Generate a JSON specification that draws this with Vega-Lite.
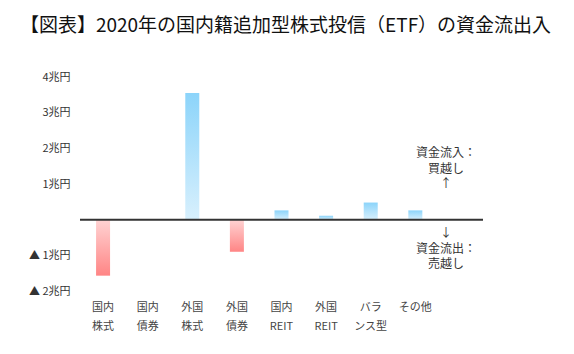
{
  "$schema": "https://vega.github.io/schema/vega-lite/v6.json",
  "width": 403,
  "height": 214,
  "autosize": {"type": "none"},
  "padding": {"left": 80, "top": 77, "right": 91, "bottom": 63},
  "background": "white",
  "config": {
    "view": {"stroke": null},
    "font": "Noto Sans CJK JP"
  },
  "title": {
    "text": "【図表】2020年の国内籍追加型株式投信（ETF）の資金流出入",
    "fontSize": 19,
    "fontWeight": "normal",
    "color": "#111",
    "anchor": "middle",
    "frame": "group",
    "dx": 4,
    "offset": 35
  },
  "datasets": {
    "bars": [
      {"cat": "国内\n株式", "v": -1.57},
      {"cat": "国内\n債券", "v": 0.0},
      {"cat": "外国\n株式", "v": 3.55},
      {"cat": "外国\n債券", "v": -0.9},
      {"cat": "国内\nREIT", "v": 0.26},
      {"cat": "外国\nREIT", "v": 0.11},
      {"cat": "バラ\nンス型", "v": 0.48},
      {"cat": "その他", "v": 0.26}
    ],
    "notes": [
      {"cat": "注記", "y": 1.86, "t": "資金流入：\n買越し\n↑"},
      {"cat": "注記", "y": -0.38, "t": "↓\n資金流出：\n売越し"}
    ]
  },
  "encoding": {
    "x": {
      "field": "cat",
      "type": "nominal",
      "sort": null,
      "scale": {
        "domain": ["国内\n株式", "国内\n債券", "外国\n株式", "外国\n債券", "国内\nREIT", "外国\nREIT", "バラ\nンス型", "その他", "注記"],
        "paddingInner": 0.686,
        "paddingOuter": 0.36
      },
      "axis": {
        "title": null,
        "domain": false,
        "ticks": false,
        "labelAngle": 0,
        "labelFontSize": 11,
        "labelColor": "#444",
        "labelPadding": 10,
        "labelLineHeight": 19,
        "labelExpr": "datum.label == '注記' ? '' : split(datum.label, '\\n')"
      }
    }
  },
  "layer": [
    {
      "data": {"name": "bars"},
      "transform": [{"filter": "datum.v > 0"}],
      "mark": {
        "type": "bar",
        "color": {
          "gradient": "linear",
          "x1": 0, "y1": 0, "x2": 0, "y2": 1,
          "stops": [
            {"offset": 0, "color": "#8cd4fa"},
            {"offset": 1, "color": "#d8f0fd"}
          ]
        }
      },
      "encoding": {
        "y": {
          "field": "v",
          "type": "quantitative",
          "scale": {"domain": [-2, 4], "nice": false},
          "axis": {
            "title": null,
            "domain": false,
            "ticks": false,
            "grid": false,
            "values": [-2, -1, 1, 2, 3, 4],
            "labelFontSize": 11,
            "labelColor": "#333",
            "labelPadding": 10,
            "labelExpr": "datum.value < 0 ? '▲ ' + (-datum.value) + '兆円' : datum.value + '兆円'"
          }
        }
      }
    },
    {
      "data": {"name": "bars"},
      "transform": [{"filter": "datum.v < 0"}],
      "mark": {
        "type": "bar",
        "color": {
          "gradient": "linear",
          "x1": 0, "y1": 0, "x2": 0, "y2": 1,
          "stops": [
            {"offset": 0, "color": "#ffd3d3"},
            {"offset": 1, "color": "#ff8585"}
          ]
        }
      },
      "encoding": {
        "y": {"field": "v", "type": "quantitative"}
      }
    },
    {
      "data": {"values": [{"z": 0}]},
      "mark": {"type": "rule", "color": "#333", "strokeWidth": 2},
      "encoding": {
        "x": null,
        "y": {"field": "z", "type": "quantitative"}
      }
    },
    {
      "data": {"name": "notes"},
      "mark": {
        "type": "text",
        "fontSize": 12,
        "color": "#333",
        "lineBreak": "\n",
        "lineHeight": 15.5,
        "align": "center",
        "baseline": "middle",
        "dx": -14
      },
      "encoding": {
        "y": {"field": "y", "type": "quantitative"},
        "text": {"field": "t"}
      }
    }
  ]
}
